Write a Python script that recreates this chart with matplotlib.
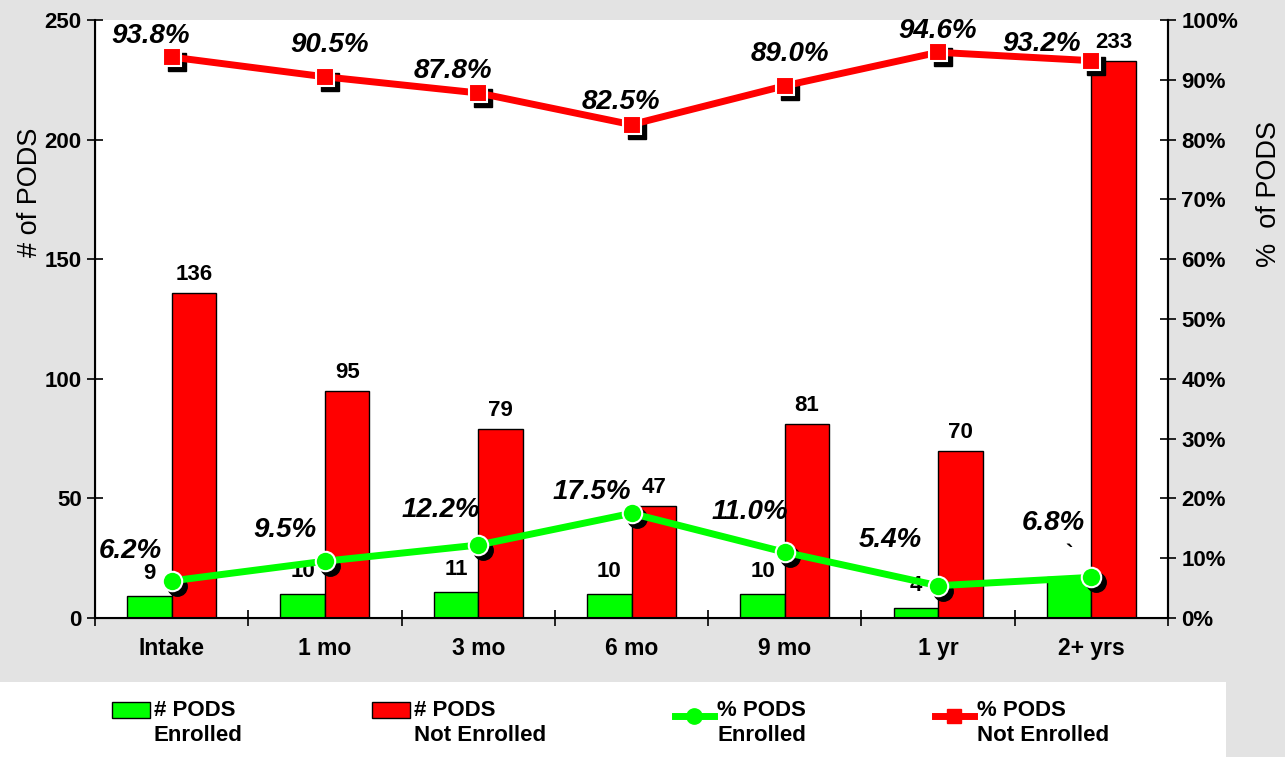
import matplotlib
matplotlib.use("Agg")
import matplotlib.pyplot as plt
import matplotlib.transforms as mtransforms
from matplotlib.patches import Rectangle
from matplotlib.lines import Line2D
from matplotlib.legend_handler import HandlerPatch, HandlerLine2D
import numpy as np

plt.rcParams['font.family'] = ['Liberation Sans', 'DejaVu Sans']

# data
categories = ['Intake', '1 mo', '3 mo', '6 mo', '9 mo', '1 yr', '2+ yrs']
enrolled = [9, 10, 11, 10, 10, 4, 17]
not_enrolled = [136, 95, 79, 47, 81, 70, 233]
enrolled_labels = ['9', '10', '11', '10', '10', '4', '`']
pct_enrolled = [6.2, 9.5, 12.2, 17.5, 11.0, 5.4, 6.8]
pct_not_enrolled = [93.8, 90.5, 87.8, 82.5, 89.0, 94.6, 93.2]

# where the % labels sit relative to their markers (pixels)
green_offsets = [(-41, 30), (-40, 31), (-37, 35), (-40, 21), (-35, 40), (-48, 46), (-38, 54)]
red_offsets = [(-21, 21), (5, 32), (-25, 22), (-11, 23), (5, 32), (0, 21), (-50, 17)]

GREEN = '#00ff00'
RED = '#ff0000'
BG = '#e3e3e3'


# legend handles sit level with the first line of the two-line labels
class UpPatch(HandlerPatch):
    def create_artists(self, legend, orig_handle, xdescent, ydescent, width, height, fontsize, trans):
        return super().create_artists(legend, orig_handle, xdescent, ydescent - 0.6 * fontsize,
                                      width, height, fontsize, trans)


class UpLine(HandlerLine2D):
    def create_artists(self, legend, orig_handle, xdescent, ydescent, width, height, fontsize, trans):
        return super().create_artists(legend, orig_handle, xdescent, ydescent - 0.6 * fontsize,
                                      width, height, fontsize, trans)


fig = plt.figure(figsize=(12.85, 7.57), dpi=100)
fig.patch.set_facecolor(BG)
fig.patches.append(Rectangle((0, 0), 1226 / 1285, 75 / 757, transform=fig.transFigure,
                             facecolor='white', edgecolor='none', zorder=0))

ax = fig.add_axes([95 / 1285, 139 / 757, 1073 / 1285, 598 / 757])
ax.set_facecolor('white')

x = np.arange(len(categories))
w = 0.29
b1 = ax.bar(x - w / 2, enrolled, w, color=GREEN, edgecolor='black', linewidth=1)
b2 = ax.bar(x + w / 2, not_enrolled, w, color=RED, edgecolor='black', linewidth=1)

for rect, lab in zip(b1, enrolled_labels):
    ax.annotate(lab, (rect.get_x() + rect.get_width() / 2, rect.get_height()),
                xytext=(0, 12), textcoords='offset pixels', ha='center', va='bottom',
                fontsize=16, fontweight='bold')
for rect, val in zip(b2, not_enrolled):
    ax.annotate(str(val), (rect.get_x() + rect.get_width() / 2, rect.get_height()),
                xytext=(0, 8), textcoords='offset pixels', ha='center', va='bottom',
                fontsize=16, fontweight='bold')

ax.set_xlim(-0.5, len(categories) - 0.5)
ax.set_ylim(0, 250)
ax.set_yticks(range(0, 251, 50))
ax.set_xticks(np.arange(-0.5, len(categories), 1.0))
ax.set_xticklabels([])
ax.set_xticks(x, minor=True)
ax.set_xticklabels(categories, minor=True, fontsize=16.5, fontweight='bold')
ax.tick_params(axis='x', which='major', direction='inout', length=12, width=1.2)
ax.tick_params(axis='x', which='minor', length=0, pad=14)
ax.tick_params(axis='y', direction='inout', length=12, width=1.2, labelsize=16)
for t in ax.get_yticklabels():
    t.set_fontweight('bold')
ax.spines['top'].set_visible(False)
for s in ['left', 'right', 'bottom']:
    ax.spines[s].set_linewidth(1.5)
ax.set_ylabel('# of PODS', fontsize=19.5)
ax.yaxis.set_label_coords(-0.048, 0.712)

ax2 = ax.twinx()
ax2.set_ylim(0, 100)
ax2.set_yticks(range(0, 101, 10))
ax2.set_yticklabels([f'{v}%' for v in range(0, 101, 10)])
ax2.tick_params(axis='y', direction='inout', length=12, width=1.2, labelsize=16)
for t in ax2.get_yticklabels():
    t.set_fontweight('bold')
ax2.spines['top'].set_visible(False)
ax2.spines['right'].set_linewidth(1.5)
ax2.set_ylabel('%  of PODS', fontsize=19.5, rotation=90)
ax2.yaxis.set_label_coords(1.082, 0.709)

shadow = mtransforms.offset_copy(ax2.transData, fig=fig, x=5, y=-5, units='dots')
ax2.plot(x, pct_not_enrolled, 's', color='black', markersize=13, transform=shadow, zorder=3)
ax2.plot(x, pct_enrolled, 'o', color='black', markersize=14, transform=shadow, zorder=3)
l1, = ax2.plot(x, pct_enrolled, '-o', color=GREEN, linewidth=5, markersize=14,
               markeredgecolor='white', markeredgewidth=1.5, zorder=4)
l2, = ax2.plot(x, pct_not_enrolled, '-s', color=RED, linewidth=5, markersize=13,
               markeredgecolor='white', markeredgewidth=1.5, zorder=4)

for xi, v, off in zip(x, pct_enrolled, green_offsets):
    ax2.annotate(f'{v:.1f}%', (xi, v), xytext=off, textcoords='offset pixels',
                 ha='center', va='center', fontsize=20, fontweight='bold', style='italic',
                 zorder=5)
for xi, v, off in zip(x, pct_not_enrolled, red_offsets):
    ax2.annotate(f'{v:.1f}%', (xi, v), xytext=off, textcoords='offset pixels',
                 ha='center', va='center', fontsize=20, fontweight='bold', style='italic',
                 zorder=5)

leg_handles = [b1[0], b2[0],
               Line2D([], [], color=GREEN, linewidth=5, marker='o', markersize=11),
               Line2D([], [], color=RED, linewidth=5, marker='s', markersize=10)]
leg_labels = ['# PODS\nEnrolled', '# PODS\nNot Enrolled', '% PODS\nEnrolled', '% PODS\nNot Enrolled']
fig.legend(leg_handles, leg_labels, loc='center', bbox_to_anchor=(0.475, 0.045),
           ncol=4, frameon=False, handlelength=1.75, handletextpad=0.15,
           columnspacing=5.8, prop={'weight': 'bold', 'size': 16},
           handler_map={Rectangle: UpPatch(), Line2D: UpLine()})

fig.savefig('out.png', dpi=100, facecolor=fig.get_facecolor())
